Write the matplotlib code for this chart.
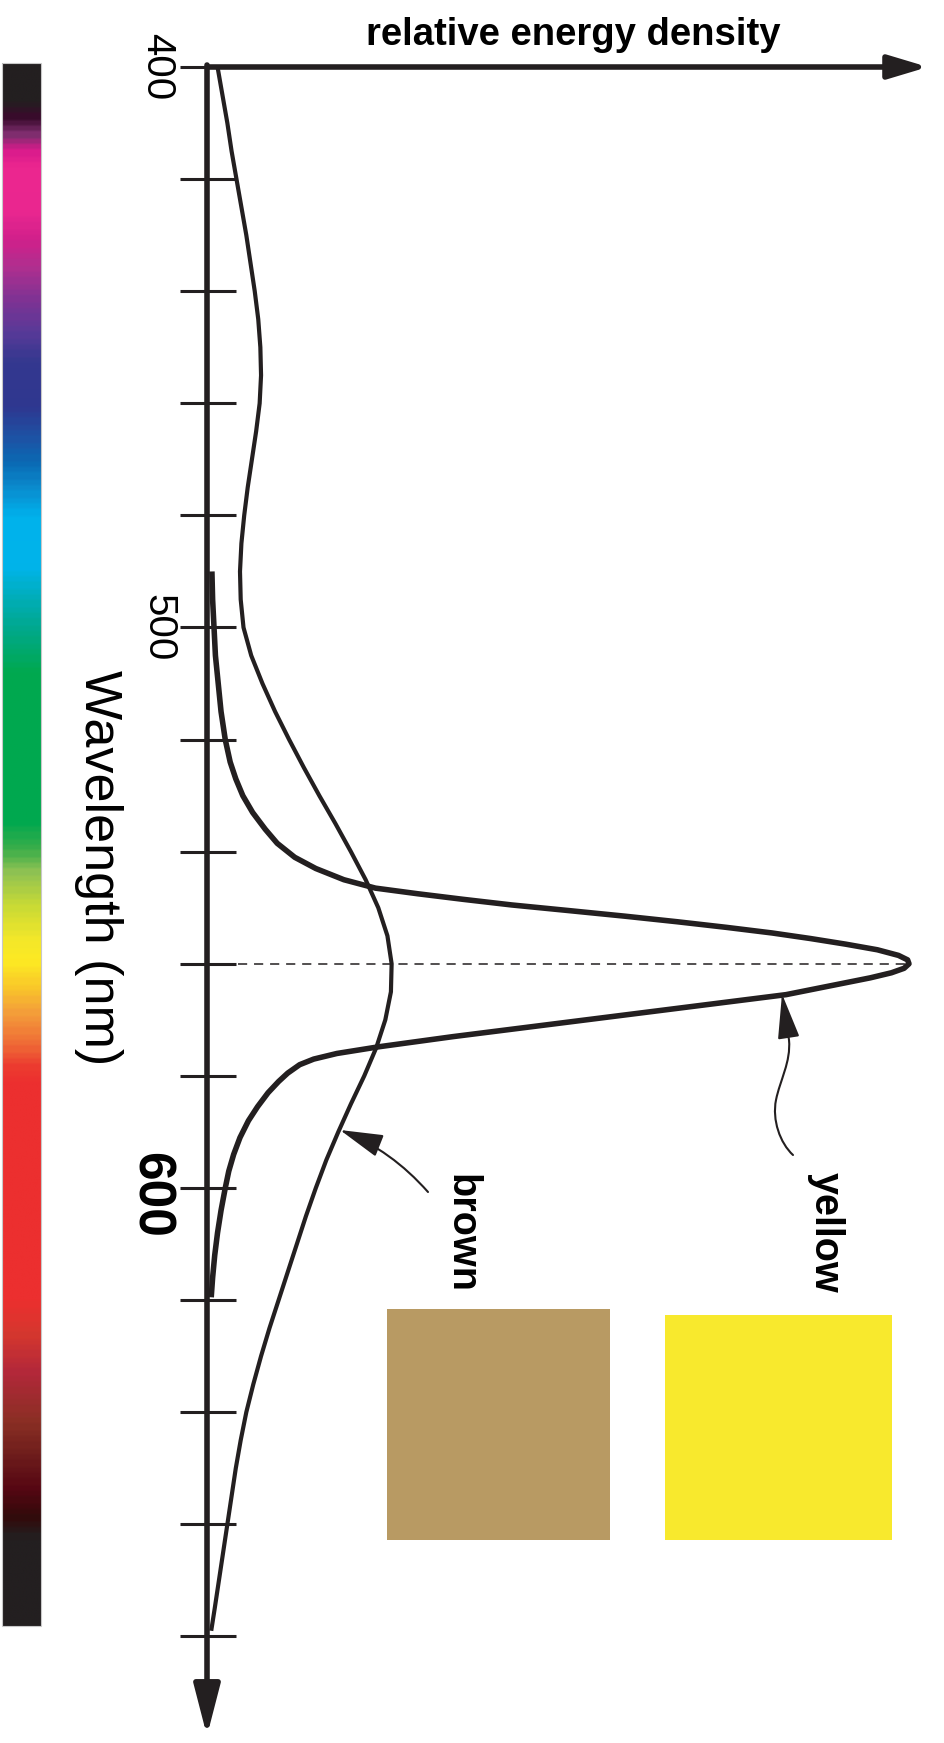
import numpy as np
import matplotlib.pyplot as plt
from matplotlib.colors import LinearSegmentedColormap
from matplotlib.patches import Rectangle, FancyArrowPatch
from matplotlib.path import Path

# broad "brown" reflectance spectrum: wavelength (nm) -> relative energy
brown_nm = [400, 405, 410, 415, 420, 425, 430, 435, 440, 445, 450, 455, 460,
            465, 470, 475, 480, 485, 490, 495, 500, 505, 510, 515, 520, 525,
            530, 535, 540, 545, 550, 555, 560, 565, 570, 575, 580, 585, 590,
            595, 600, 605, 610, 615, 620, 625, 630, 635, 640, 645, 650, 655,
            660, 665, 670, 675, 679]
brown_energy = [0.015, 0.022, 0.029, 0.035, 0.042, 0.049, 0.056, 0.062, 0.068,
                0.073, 0.076, 0.077, 0.075, 0.070, 0.064, 0.058, 0.053, 0.049,
                0.047, 0.048, 0.052, 0.063, 0.079, 0.097, 0.117, 0.138, 0.160,
                0.183, 0.205, 0.226, 0.244, 0.257, 0.263, 0.262, 0.254, 0.241,
                0.224, 0.205, 0.187, 0.170, 0.155, 0.141, 0.128, 0.115, 0.102,
                0.089, 0.077, 0.066, 0.056, 0.048, 0.041, 0.035, 0.029, 0.023,
                0.017, 0.011, 0.006]

# narrow "yellow" spectrum peaking at 560 nm
yellow_nm = [490, 495, 500, 505, 510, 515, 520, 524, 527, 530, 533, 536, 538.5,
             541, 543, 545, 546.5, 547.5, 548.5, 549.5, 550.5, 551.5, 552.5,
             553.5, 554.5, 555.5, 556.5, 557.5, 558.5, 559.3, 560, 560.8, 561.6,
             562.5, 563.5, 564.5, 565.5, 567, 568.5, 570, 571.5, 573, 574.8,
             576, 577, 578, 579.5, 581, 583, 585.5, 588, 591, 594, 597, 600,
             604, 608, 612, 616, 619.5]
yellow_energy = [0.007, 0.008, 0.010, 0.012, 0.016, 0.020, 0.026, 0.033, 0.041,
                 0.051, 0.065, 0.083, 0.100, 0.125, 0.155, 0.195, 0.240, 0.300,
                 0.365, 0.434, 0.515, 0.595, 0.670, 0.740, 0.805, 0.860, 0.910,
                 0.955, 0.985, 0.998, 1.000, 0.993, 0.975, 0.945, 0.905, 0.865,
                 0.825, 0.730, 0.635, 0.540, 0.445, 0.350, 0.245, 0.185, 0.152,
                 0.132, 0.115, 0.102, 0.087, 0.072, 0.059, 0.047, 0.038, 0.031,
                 0.026, 0.020, 0.015, 0.011, 0.008, 0.006]

tick_nm = list(range(400, 681, 20))
peak_nm = 560

# colour stops of the visible spectrum strip
spectrum_nm = [400, 406, 409, 412, 415, 418, 426, 431, 436, 442, 448, 453, 461,
               467, 471, 476, 481, 490, 496, 502, 509, 536, 541, 545, 551, 557,
               561, 566, 570, 576, 580, 583, 622, 628, 635, 644, 650, 656, 661,
               665, 680]
spectrum_colors = ['#231f20', '#231f20', '#3a0a2c', '#7d2e6e', '#d91b8c',
                   '#ec268f', '#ea2790', '#d1208b', '#b02f8f', '#7e3394',
                   '#573a98', '#34388f', '#2f3790', '#1c54a6', '#0b69b3',
                   '#0a8dcf', '#00b2ec', '#00b4ea', '#00adb6', '#00a886',
                   '#00a94f', '#00a84f', '#3dae4a', '#8fc253', '#c8da36',
                   '#f2e72a', '#fdea23', '#f9c62a', '#f4a03a', '#ef6a36',
                   '#ec3b30', '#ec2f2f', '#ec2f2f', '#d5372e', '#b3283a',
                   '#8a2f24', '#6e1d1c', '#560713', '#330a0b', '#231f20',
                   '#231f20']

swatch_colors = {'brown': '#b89a63', 'yellow': '#f8e92d'}

INK = '#231f20'


# layout: pixel positions of the diagram frame
def ex(px):
    return (px - 207) / 702.0


def wl(py):
    return 400 + (py - 67) / 5.605


fig = plt.figure(figsize=(9.45, 17.43), dpi=100)
ax = fig.add_axes([0, 0, 1, 1])
ax.set_axis_off()

# spectrum strip on the left
lo, hi = spectrum_nm[0], spectrum_nm[-1]
cmap = LinearSegmentedColormap.from_list(
    'spec', [((n - lo) / (hi - lo), c) for n, c in zip(spectrum_nm, spectrum_colors)])
grad = np.linspace(0, 1, 600).reshape(-1, 1)
ax.imshow(grad, cmap=cmap, aspect='auto', interpolation='bilinear',
          extent=(ex(2), ex(41), wl(1626), wl(63)), zorder=1)
ax.add_patch(Rectangle((ex(2), wl(63)), ex(41) - ex(2), wl(1626) - wl(63),
                       fill=False, ec='#c8c8c8', lw=0.8, zorder=2))

# axes with arrow heads
ax.annotate('', xy=(ex(928), 400), xytext=(0, 400),
            arrowprops=dict(arrowstyle='-|>,head_length=1.2,head_width=0.36',
                            mutation_scale=20, lw=4.0, color=INK,
                            shrinkA=0, shrinkB=0, capstyle='butt'))
ax.annotate('', xy=(0, wl(1736)), xytext=(0, wl(65)),
            arrowprops=dict(arrowstyle='-|>,head_length=1.55,head_width=0.4',
                            mutation_scale=20, lw=4.0, color=INK,
                            shrinkA=0, shrinkB=0))

for t in tick_nm:
    ax.plot([ex(180), ex(236)], [t, t], color=INK, lw=2.2, solid_capstyle='butt')

tick_font = ['Liberation Sans Narrow', 'Liberation Sans', 'DejaVu Sans']
ax.text(ex(157), 400, '400', rotation=-90, ha='center', va='center',
        fontsize=29, family=tick_font, color='black')
ax.text(ex(158), 500, '500', rotation=-90, ha='center', va='center',
        fontsize=29, family=tick_font, color='black')
ax.text(ex(150), wl(1195), '600', rotation=-90, ha='center', va='center',
        fontsize=37, family=tick_font, fontweight='bold', color='black')

ax.text(ex(99), wl(868), 'Wavelength (nm)', rotation=-90, ha='center',
        va='center', fontsize=37.5, family=['Liberation Sans', 'DejaVu Sans'])
ax.text(ex(573), wl(35), 'relative energy density', ha='center', va='center',
        fontsize=27.5, fontweight='bold', family=['Liberation Sans', 'DejaVu Sans'])

# spectra
ax.plot(brown_energy, brown_nm, color=INK, lw=3.0, solid_joinstyle='round',
        solid_capstyle='butt', zorder=4)
ax.plot(yellow_energy, yellow_nm, color=INK, lw=4.0, solid_joinstyle='round',
        solid_capstyle='butt', zorder=4)

# dashed marker at the yellow peak
ax.plot([ex(238), max(yellow_energy)], [peak_nm, peak_nm], color=INK, lw=1.1,
        dashes=(6, 4.5), zorder=3)

# labels with pointer arrows
ax.text(ex(461), wl(1234), 'brown', rotation=-90, ha='center', va='center',
        fontsize=28.5, fontweight='bold', family=['Liberation Sans', 'DejaVu Sans'])
ax.text(ex(826), wl(1232), 'yellow', rotation=-90, ha='center', va='center',
        fontsize=28.5, fontweight='bold', family=['Liberation Sans', 'DejaVu Sans'])

ax.add_patch(FancyArrowPatch((ex(428), wl(1192)), (ex(340), wl(1130)),
                             connectionstyle='arc3,rad=0.12',
                             arrowstyle='-|>,head_length=1.35,head_width=0.36',
                             mutation_scale=20, lw=1.5, color=INK,
                             shrinkA=0, shrinkB=0, zorder=5))

# wavy pointer for the yellow label
wiggle = [(793, 1155), (780, 1143), (772, 1120), (776, 1100),
          (780, 1080), (791, 1062), (789, 1040), (782, 994)]
verts = [(ex(x), wl(y)) for x, y in wiggle]
codes = [Path.MOVETO] + [Path.CURVE4] * 6 + [Path.LINETO]
ax.add_patch(FancyArrowPatch(path=Path(verts, codes),
                             arrowstyle='-|>,head_length=1.4,head_width=0.34',
                             mutation_scale=20, lw=1.5, color=INK, zorder=5))

# colour swatches
ax.add_patch(Rectangle((ex(387), wl(1309)), ex(610) - ex(387), wl(1540) - wl(1309),
                       color=swatch_colors['brown'], lw=0, zorder=2))
ax.add_patch(Rectangle((ex(665), wl(1315)), ex(892) - ex(665), wl(1540) - wl(1315),
                       color=swatch_colors['yellow'], lw=0, zorder=2))

ax.set_xlim(ex(0), ex(945))
ax.set_ylim(wl(1743), wl(0))

fig.savefig('out.png', dpi=100, facecolor='white')
